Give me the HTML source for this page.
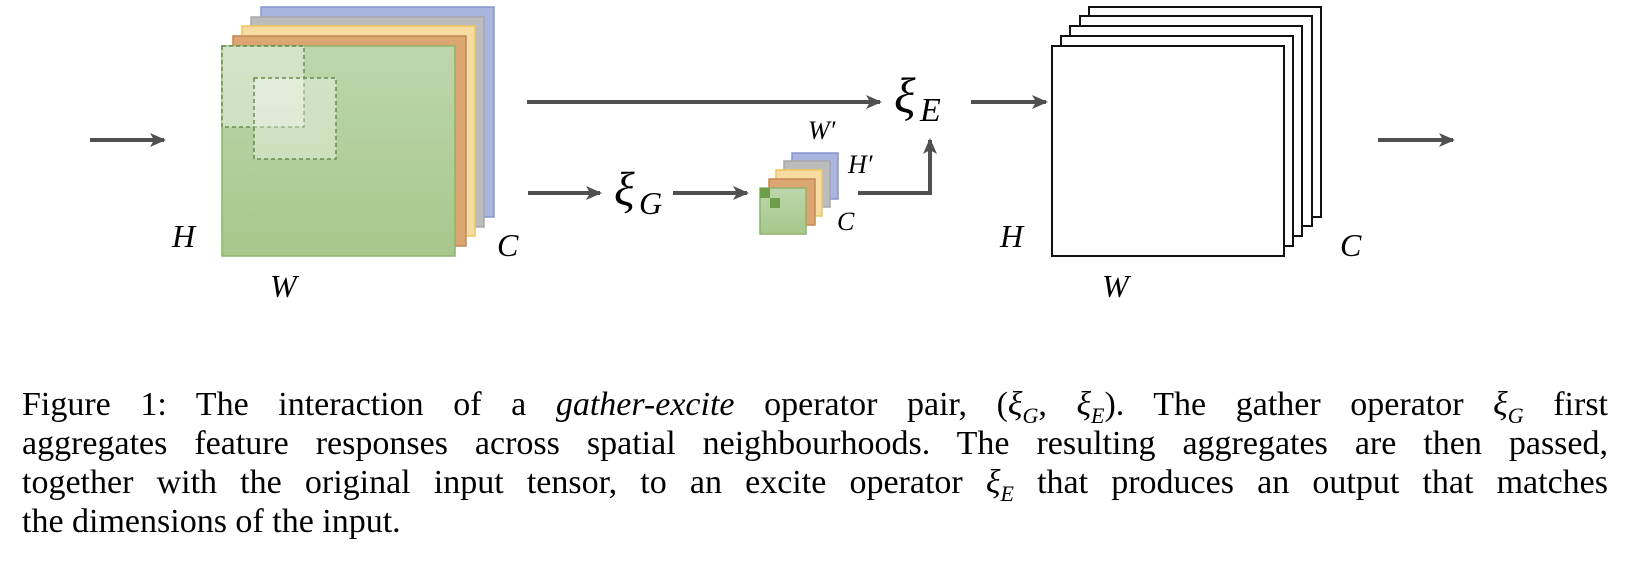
<!DOCTYPE html>
<html><head><meta charset="utf-8"><style>
html,body{margin:0;padding:0;background:#fff;width:1628px;height:565px;overflow:hidden}
svg{position:absolute;left:0;top:0}
.cap{position:absolute;left:22px;width:1586px;font-family:"Liberation Serif",serif;font-size:34px;color:#000;white-space:nowrap;text-align:justify;text-align-last:justify;line-height:38px}
.last{text-align-last:left}
i{font-style:italic}
sub{font-size:22px;line-height:0}
</style></head><body>
<svg width="1628" height="565" viewBox="0 0 1628 565">
<defs>
<linearGradient id="g" x1="0" y1="0" x2="0" y2="1"><stop offset="0" stop-color="#bcd7ac"/><stop offset="1" stop-color="#a7c78c"/></linearGradient>
<marker id="ah" markerWidth="16" markerHeight="14" refX="14" refY="7" orient="auto" markerUnits="userSpaceOnUse"><path d="M0,0 L16,7 L0,14 L4,7 z" fill="#505050"/></marker>
</defs>
<rect x="261" y="7" width="233" height="210" fill="#aab5dd" stroke="#8596cf" stroke-width="1.5"/>
<rect x="251" y="17" width="233" height="210" fill="#bcbcbc" stroke="#a8a8a8" stroke-width="1.5"/>
<rect x="242" y="26" width="233" height="210" fill="#f6dca2" stroke="#efc65a" stroke-width="1.5"/>
<rect x="233" y="36" width="233" height="210" fill="#dba672" stroke="#c48752" stroke-width="1.5"/>
<rect x="222" y="46" width="233" height="210" fill="url(#g)" stroke="#8db46b" stroke-width="1.5"/>
<rect x="222" y="46" width="82" height="81" fill="rgba(255,255,255,0.35)" stroke="#6b8a50" stroke-width="1.5" stroke-dasharray="4,3"/>
<rect x="254" y="78" width="82" height="81" fill="rgba(255,255,255,0.35)" stroke="#6b8a50" stroke-width="1.5" stroke-dasharray="4,3"/>
<rect x="792" y="153" width="46" height="46" fill="#aab5dd" stroke="#8596cf" stroke-width="1.5"/>
<rect x="784" y="161" width="46" height="46" fill="#bcbcbc" stroke="#a8a8a8" stroke-width="1.5"/>
<rect x="776" y="170" width="46" height="46" fill="#f6dca2" stroke="#efc65a" stroke-width="1.5"/>
<rect x="769" y="179" width="46" height="46" fill="#dba672" stroke="#c48752" stroke-width="1.5"/>
<rect x="760" y="188" width="46" height="46" fill="url(#g)" stroke="#8db46b" stroke-width="1.5"/>
<rect x="760" y="188" width="10" height="10" fill="#6f9e4b"/>
<rect x="770" y="198" width="10" height="10" fill="#6f9e4b"/>
<g fill="#fff" stroke="#111" stroke-width="2">
<rect x="1089" y="7" width="232" height="210"/>
<rect x="1080" y="16" width="232" height="210"/>
<rect x="1070" y="26" width="232" height="210"/>
<rect x="1061" y="36" width="232" height="210"/>
<rect x="1052" y="46" width="232" height="210"/>
</g>
<g stroke="#505050" stroke-width="4" fill="none" marker-end="url(#ah)">
<line x1="90" y1="140" x2="164" y2="140"/>
<line x1="527" y1="102" x2="880" y2="102"/>
<line x1="971" y1="102" x2="1046" y2="102"/>
<line x1="528" y1="193" x2="600" y2="193"/>
<line x1="673" y1="193" x2="747" y2="193"/>
<polyline points="858,193 930,193 930,140"/>
<line x1="1378" y1="140" x2="1453" y2="140"/>
</g>
<g font-family="Liberation Serif,serif" font-style="italic" font-size="32" fill="#000">
<text x="172" y="247">H</text>
<text x="497" y="256">C</text>
<text x="270" y="297">W</text>
<text x="1000" y="247">H</text>
<text x="1340" y="256">C</text>
<text x="1102" y="297">W</text>
<text x="808" y="139" font-size="26">W′</text>
<text x="848" y="173" font-size="26">H′</text>
<text x="837" y="230" font-size="26">C</text>
<text x="894" y="112" font-size="50">ξ</text>
<text x="920" y="121" font-size="34">E</text>
<text x="614" y="205" font-size="48">ξ</text>
<text x="639" y="214" font-size="32">G</text>
</g>
</svg>
<div class="cap" style="top:386px">Figure 1: The interaction of a <i>gather-excite</i> operator pair, (<i>ξ<sub>G</sub></i>, <i>ξ<sub>E</sub></i>). The gather operator <i>ξ<sub>G</sub></i> first</div>
<div class="cap" style="top:425px">aggregates feature responses across spatial neighbourhoods. The resulting aggregates are then passed,</div>
<div class="cap" style="top:464px">together with the original input tensor, to an excite operator <i>ξ<sub>E</sub></i> that produces an output that matches</div>
<div class="cap last" style="top:503px">the dimensions of the input.</div>
</body></html>
